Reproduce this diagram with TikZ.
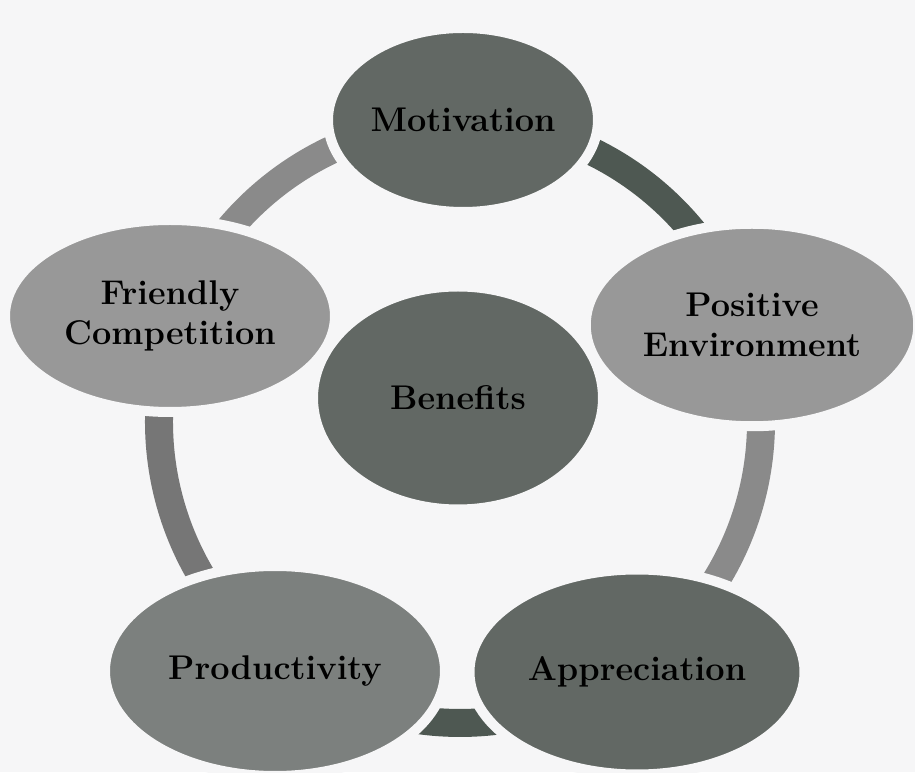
\documentclass[tikz,border=0pt]{standalone}
\usepackage{fontspec}
\usepackage{xcolor}
\usetikzlibrary{shapes.geometric}

\definecolor{bgcol}{RGB}{246,246,247}
\definecolor{darkfill}{RGB}{98,104,100}
\definecolor{midfill}{RGB}{124,128,126}
\definecolor{lightfill}{RGB}{152,152,152}
\definecolor{ringdark}{RGB}{78,88,82}
\definecolor{ringlight}{RGB}{138,138,138}
\definecolor{ringmid}{RGB}{118,118,118}

\begin{document}
\begin{tikzpicture}[every node/.style={ellipse, draw=bgcol, line width=0.2cm, inner sep=0pt, align=center,
    font=\bfseries\fontsize{19.5}{23}\selectfont},
    ringseg/.style={line width=0.56cm}]
      \useasboundingbox[fill=bgcol] (0,0) rectangle (18.3,15.44);
      \coordinate (ring) at (9.2,7.0);

      % Anello
      \draw[ringseg, ringdark] ([shift={(18.4:6.02)}]ring) arc[start angle=18.4, end angle=89.4, radius=6.02];
      \draw[ringseg, ringlight] ([shift={(89.4:6.02)}]ring) arc[start angle=89.4, end angle=159.9, radius=6.02];
      \draw[ringseg, ringmid] ([shift={(159.9:6.02)}]ring) arc[start angle=159.9, end angle=233.4, radius=6.02];
      \draw[ringseg, ringdark] ([shift={(233.4:6.02)}]ring) arc[start angle=233.4, end angle=305.3, radius=6.02];
      \draw[ringseg, ringlight] ([shift={(305.3:6.02)}]ring) arc[start angle=305.3, end angle=378.4, radius=6.02];

      % Cerchio esterno
      \node (mot) at (9.26,13.04) [fill=darkfill, minimum width=5.4cm, minimum height=3.68cm] {Motivation};
      \node (pos) at (15.04,8.94) [fill=lightfill, minimum width=6.65cm, minimum height=4.05cm] {Positive\\Environment};
      \node (app) at (12.74,2.00) [fill=darkfill, minimum width=6.7cm, minimum height=4.1cm] {Appreciation};
      \node (pro) at (5.50,2.02) [fill=midfill, minimum width=6.8cm, minimum height=4.2cm] {Productivity};
      \node (fri) at (3.40,9.12) [fill=lightfill, minimum width=6.6cm, minimum height=3.84cm] {Friendly\\Competition};

      % Centro
      \node (ben) at (9.16,7.48) [fill=darkfill, minimum width=5.8cm, minimum height=4.46cm] {Benefits};
    \end{tikzpicture}
\end{document}
